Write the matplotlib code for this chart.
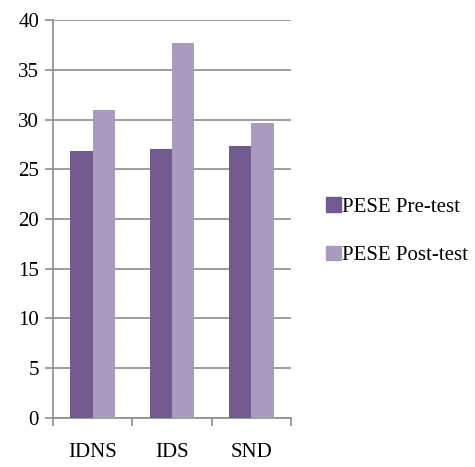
import matplotlib.pyplot as plt
import numpy as np
from matplotlib.patches import Patch

groups = ['IDNS', 'IDS', 'SND']
pre_test = [26.8, 27.0, 27.3]
post_test = [31.0, 37.7, 29.7]
series_names = ['PESE Pre-test', 'PESE Post-test']
colors = ['#72598E', '#A99BC0']

plt.rcParams['font.family'] = ['Liberation Serif', 'DejaVu Serif']
plt.rcParams['font.size'] = 15

fig = plt.figure(figsize=(4.75, 4.67), dpi=100)
ax = fig.add_axes([0.1116, 0.105, 0.501, 0.852])

x = np.arange(len(groups))
w = 0.28
ax.bar(x - w / 2, pre_test, w, color=colors[0], zorder=3)
ax.bar(x + w / 2, post_test, w, color=colors[1], zorder=3)

ax.set_xlim(-0.5, 2.5)
ax.set_ylim(0, 40)
ax.set_yticks(np.arange(0, 41, 5))
ax.yaxis.grid(True, color='#8C8C8C', linewidth=1.2, zorder=0)

# category boundaries as major ticks, names on minor ticks
ax.set_xticks([-0.5, 0.5, 1.5, 2.5])
ax.set_xticklabels([])
ax.set_xticks(x, minor=True)
ax.set_xticklabels(groups, minor=True)
ax.tick_params(axis='x', which='major', length=6, color='#8C8C8C', width=1.2)
ax.tick_params(axis='x', which='minor', length=0, pad=18)
ax.tick_params(axis='y', length=6, color='#8C8C8C', width=1.2, pad=4)

for s in ['top', 'right']:
    ax.spines[s].set_visible(False)
for s in ['left', 'bottom']:
    ax.spines[s].set_color('#8C8C8C')
    ax.spines[s].set_linewidth(1.2)

handles = [Patch(color=c, label=n) for c, n in zip(colors, series_names)]
fig.legend(handles=handles, loc='center left', bbox_to_anchor=(0.665, 0.505),
           frameon=False, handlelength=0.7, handleheight=0.7,
           handletextpad=0.05, labelspacing=1.4, borderpad=0, fontsize=15)

plt.savefig('out.png', dpi=100)
